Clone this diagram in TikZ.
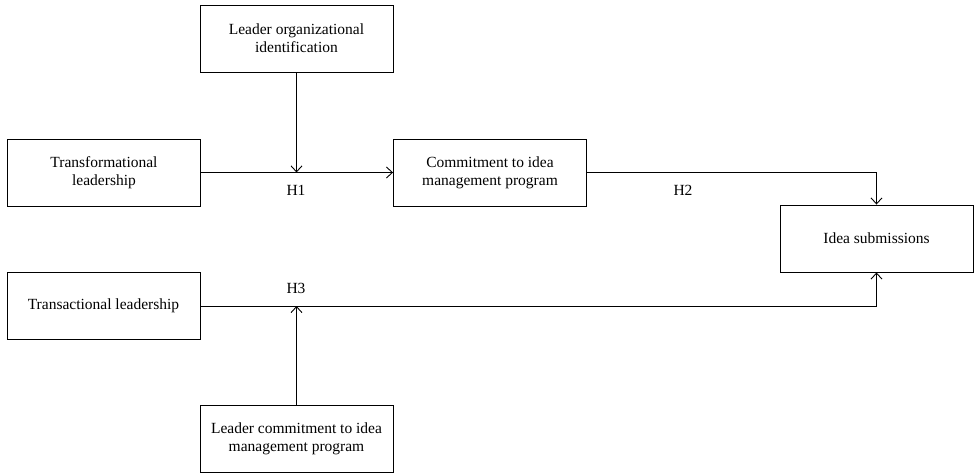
\documentclass[tikz,border=0pt]{standalone}
\usepackage{fontspec}
\setmainfont{Liberation Serif}
\usetikzlibrary{arrows.meta}
\begin{document}
\begin{tikzpicture}[x=1pt,y=-1pt,>={Straight Barb[length=6pt,width=11pt]},
        varbox/.style={draw, line width=0.9pt, minimum width=193pt, minimum height=67pt, inner sep=0pt, align=center, font=\fontsize{15.5}{18}\selectfont},
        hlabel/.style={font=\fontsize{15.5}{18}\selectfont},
        link/.style={line width=0.9pt}]
        \useasboundingbox (0,0) rectangle (974,473);

        % Variables
        \node[varbox] (orgid) at (296.5,38.5) {Leader organizational\\identification};
        \node[varbox] (transf) at (104,172.5) {Transformational\\leadership};
        \node[varbox] (commit) at (490,172.5) {Commitment to idea\\management program};
        \node[varbox] (ideas) at (876.5,238.5) {Idea submissions};
        \node[varbox] (transa) at (103.5,306) {Transactional leadership};
        \node[varbox] (ldrcommit) at (296.5,438.5) {Leader commitment to idea\\management program};

        % Hypotheses
        \node[hlabel] (h1) at (296,190) {H1};
        \node[hlabel] (h2) at (683,190) {H2};
        \node[hlabel] (h3) at (296,288) {H3};

        % Paths
        \draw[link,->] (transf) -- (commit);
        \draw[link,->] (orgid) -- (orgid |- transf);
        \draw[link,->] (commit.east) -| (ideas.north);
        \draw[link,->] (transa.east) -| (ideas.south);
        \draw[link,->] (ldrcommit) -- (ldrcommit |- transa);
\end{tikzpicture}
\end{document}
